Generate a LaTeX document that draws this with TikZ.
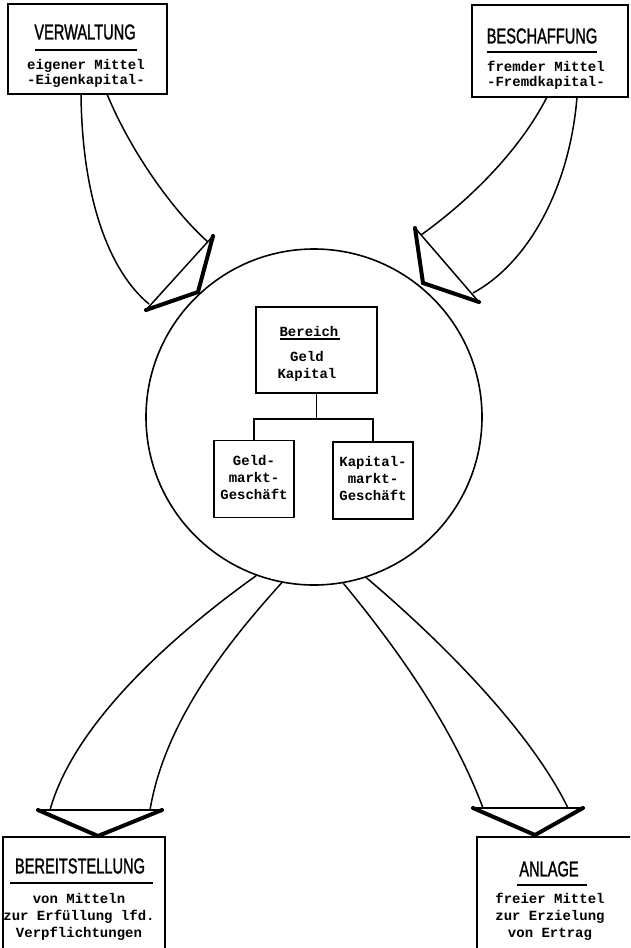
\documentclass[tikz,border=0pt]{standalone}
\usepackage{fontspec}
\setmainfont{Liberation Sans}
\setmonofont{Liberation Mono}
\newfontfamily\titlefont[FakeStretch=0.68,FakeBold=1.2]{Liberation Sans}
\usetikzlibrary{calc}
\tikzset{
  frame/.style={draw, line width=1.5pt, inner sep=0pt},
  ttl/.style={inner sep=0pt, font=\titlefont\fontsize{21.5}{21.5}\selectfont},
  body/.style={inner sep=0pt, align=center, font=\ttfamily\bfseries\fontsize{14}{#1}\selectfont},
  body/.default=17,
  rule/.style={line width=1.5pt},
  flow/.style={line width=1.5pt},
  head/.style={line width=4pt, line join=miter, line cap=round},
}
\begin{document}
\begin{tikzpicture}[x=1pt,y=-1pt]
\useasboundingbox (0,0) rectangle (630,948);
\clip (0,0) rectangle (630,948);
\fill[white] (0,0) rectangle (630,948);

% ---- outer boxes ----
\node[frame, minimum width=159pt, minimum height=90pt] (verw) at (87.5,49) {};
\node[ttl] (verwT) at (85,32) {VERWALTUNG};
\draw[rule] (35,50) -- (137,50);
\node[body=15] (verwB) at (86,73) {eigener Mittel\\-Eigenkapital-};

\node[frame, minimum width=156pt, minimum height=92pt] (besch) at (550,51) {};
\node[ttl] (beschT) at (542,36) {BESCHAFFUNG};
\draw[rule] (487,52) -- (597,52);
\node[body=15] (beschB) at (546,75) {fremder Mittel\\-Fremdkapital-};

\node[frame, minimum width=162pt, minimum height=123pt] (bereit) at (84,898.5) {};
\node[ttl] (bereitT) at (80,866) {BEREITSTELLUNG};
\draw[rule] (10,883) -- (153,883);
\node[body] (bereitB) at (79,917) {von Mitteln\\zur Erfüllung lfd.\\Verpflichtungen};

\node[frame, minimum width=163pt, minimum height=123pt] (anlage) at (558.5,898.5) {};
\node[ttl] (anlageT) at (549,869) {ANLAGE};
\draw[rule] (517,885) -- (587,885);
\node[body] (anlageB) at (550,917) {freier Mittel\\zur Erzielung\\von Ertrag};

% ---- circle ----
\node[draw, circle, line width=1.6pt, minimum size=336pt, inner sep=0pt] (circ) at (314,417) {};

\node[frame, minimum width=121pt, minimum height=86pt] (bereich) at (316.5,350) {};
\node[body] (bereichT) at (309,331) {Bereich};
\draw[rule] (280,339) -- (340,339);
\node[body] (bereichB) at (307,366) {Geld\\Kapital};

\node[frame, minimum width=80pt, minimum height=77pt] (geld) at (254,479) {};
\node[body] (geldT) at (254,477) {Geld-\\markt-\\Geschäft};
\node[frame, minimum width=80pt, minimum height=77pt] (kap) at (373,480.5) {};
\node[body] (kapT) at (373,478) {Kapital-\\markt-\\Geschäft};

\draw[rule] (bereich.south) -- ++(0,25) coordinate (j);
\draw[rule] (geld.north) -- (geld.north |- j) -- (kap.north |- j) -- (kap.north);

% ---- top-left arrow ----
\coordinate (a1) at (81,94);
\coordinate (a2) at (107,94);
\draw[flow] (a1) .. controls (82,200) and (110,272) .. (149,304);
\draw[flow] (a2) .. controls (130,150) and (172,210) .. (208,242);
\draw[flow] (146,310) -- (213,236);
\draw[head] (146,310) -- (198,292) -- (213,236);

% ---- top-right arrow ----
\coordinate (b1) at (547,97);
\coordinate (b2) at (577,97);
\draw[flow] (b1) .. controls (520,150) and (470,200) .. (421,235);
\draw[flow] (b2) .. controls (570,185) and (530,262) .. (473,293);
\draw[flow] (416,229) -- (478,301);
\draw[head] (415,228) -- (423,283) -- (479,302);

% ---- bottom-left arrow ----
\draw[flow] (circ.250) .. controls (180,630) and (75,720) .. (50,810);
\draw[flow] (circ.259) .. controls (230,640) and (165,720) .. (150,810);
\draw[flow] (38,810) -- (162,810);
\draw[head] (38,810) -- (98,836) -- (162,810);

% ---- bottom-right arrow ----
\draw[flow] (circ.280) .. controls (390,640) and (450,720) .. (483,808);
\draw[flow] (circ.288) .. controls (440,640) and (530,730) .. (568,808);
\draw[flow] (473,808) -- (583,808);
\draw[head] (473,808) -- (535,835) -- (583,808);
\end{tikzpicture}
\end{document}
